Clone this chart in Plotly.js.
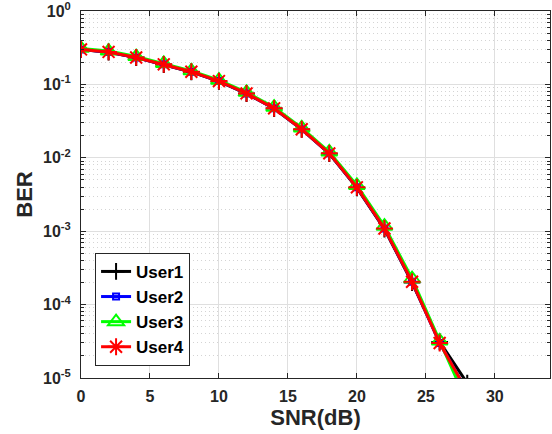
<!DOCTYPE html>
<html>
<head>
<meta charset="utf-8">
<script src="https://cdn.plot.ly/plotly-3.0.1.min.js"></script>
<style>html,body{margin:0;padding:0;background:#fff;}#chart{width:552px;height:434px;}</style>
</head>
<body>
<div id="chart"></div>
<script>
// SNR values (dB)
const snr = [0, 2, 4, 6, 8, 10, 12, 14, 16, 18, 20, 22, 24, 26, 28];
// BER per user
const user1 = [0.300, 0.275, 0.232, 0.187, 0.148, 0.110, 0.0750, 0.0470, 0.0244, 0.0114, 0.00390, 0.00107, 2.00e-4, 3.10e-5, 8.5e-6];
const user2 = [0.300, 0.277, 0.233, 0.188, 0.149, 0.111, 0.0755, 0.0472, 0.0245, 0.0115, 0.00396, 0.00109, 2.05e-4, 3.00e-5, 6.5e-6];
const user3 = [0.310, 0.285, 0.240, 0.193, 0.153, 0.114, 0.0780, 0.0490, 0.0255, 0.0120, 0.00420, 0.00117, 2.25e-4, 3.20e-5, 4.6e-6];
const user4 = [0.300, 0.277, 0.233, 0.188, 0.149, 0.111, 0.0755, 0.0472, 0.0245, 0.0115, 0.00396, 0.00109, 2.05e-4, 3.00e-5, 6.5e-6];
const seriesNames = ["User1", "User2", "User3", "User4"];
// axis ticks
const xTickVals = [0, 5, 10, 15, 20, 25, 30];
const yTickVals = [1e-5, 1e-4, 1e-3, 1e-2, 1e-1, 1];
const yTickText = ["10<sup>-5</sup>", "10<sup>-4</sup>", "10<sup>-3</sup>", "10<sup>-2</sup>", "10<sup>-1</sup>", "10<sup>0</sup>"];

const minorVals = [];
for (let e = -5; e < 0; e++) for (let m = 2; m <= 9; m++) minorVals.push(m * Math.pow(10, e));

const styles = [
  {color: "#000000", symbol: "cross-thin-open", size: 12},
  {color: "#0000ff", symbol: "square-open", size: 6},
  {color: "#00ff00", symbol: "triangle-up-open", size: 14},
  {color: "#ff0000", symbol: "asterisk-open", size: 14}
];
const allY = [user1, user2, user3, user4];
const traces = allY.map((y, i) => ({
  x: snr, y: y, name: seriesNames[i], type: "scatter", mode: "lines+markers",
  line: {color: styles[i].color, width: 3},
  marker: {symbol: styles[i].symbol, size: styles[i].size, color: styles[i].color,
           line: {color: styles[i].color, width: 2}},
  cliponaxis: true
}));

const axisCommon = {
  showline: true, linecolor: "#262626", linewidth: 1, mirror: "ticks",
  ticks: "inside", ticklen: 5, tickwidth: 1, tickcolor: "#262626",
  showgrid: true, gridcolor: "#dfdfdf", gridwidth: 1, zeroline: false,
  ticklabeloverflow: "allow",
  tickfont: {family: "Liberation Sans, Arial, sans-serif", size: 16, color: "#262626", weight: "bold"}
};

const layout = {
  width: 552, height: 434,
  margin: {l: 81, r: 2, t: 11, b: 56},
  paper_bgcolor: "#ffffff", plot_bgcolor: "#ffffff",
  showlegend: true,
  xaxis: Object.assign({}, axisCommon, {
    range: [0, 34], tickmode: "array", tickvals: xTickVals, ticklabelstandoff: 4,
    title: {text: "<b>SNR(dB)</b>", standoff: 5,
            font: {family: "Liberation Sans, Arial, sans-serif", size: 22, color: "#262626"}}
  }),
  yaxis: Object.assign({}, axisCommon, {
    type: "log", range: [-5, 0.0005], tickmode: "array", tickvals: yTickVals, ticktext: yTickText,
    ticklabelstandoff: 6,
    minor: {tickmode: "array", tickvals: minorVals, ticks: "inside", ticklen: 3, tickcolor: "#262626",
            showgrid: true, gridcolor: "#d4d4d4", griddash: "1px,3px", gridwidth: 1},
    title: {text: "<b>BER</b>", standoff: 4,
            font: {family: "Liberation Sans, Arial, sans-serif", size: 22, color: "#262626"}}
  }),
  legend: {
    x: 0.03, y: 0.033, xanchor: "left", yanchor: "bottom",
    bgcolor: "#ffffff", bordercolor: "#262626", borderwidth: 1,
    font: {family: "Liberation Sans, Arial, sans-serif", size: 17, color: "#000000", weight: "bold"},
    itemwidth: 30, tracegroupgap: 0
  }
};

Plotly.newPlot("chart", traces, layout, {staticPlot: true, displayModeBar: false});
</script>
</body>
</html>
